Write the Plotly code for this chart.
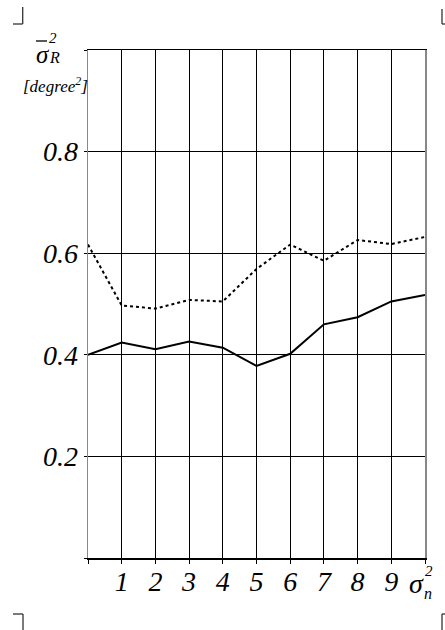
import plotly.graph_objects as go

# ---- data ----
x_vals = [0, 1, 2, 3, 4, 5, 6, 7, 8, 9, 10]
solid_series = [0.400, 0.424, 0.411, 0.426, 0.414, 0.378, 0.402, 0.460, 0.474, 0.505, 0.518]
dotted_series = [0.617, 0.497, 0.491, 0.508, 0.505, 0.569, 0.617, 0.585, 0.626, 0.618, 0.632]
x_tick_vals = [1, 2, 3, 4, 5, 6, 7, 8, 9]
x_tick_text = ["1", "2", "3", "4", "5", "6", "7", "8", "9"]
x_minor_vals = [0, 10]
x_axis_label = "σ"
x_axis_label_sub = "n"
x_axis_label_sup = "2"
y_tick_vals = [0.2, 0.4, 0.6, 0.8]
y_tick_text = ["0.2", "0.4", "0.6", "0.8"]
y_minor_vals = [0, 1.0]
y_axis_label = "σ"
y_axis_label_sub = "R"
y_axis_label_sup = "2"
y_axis_unit = "[degree<sup>2</sup>]"

W, H = 445, 630
L, R, T, B = 88, 20, 50, 72
FONT = "Liberation Serif"

fig = go.Figure()
fig.add_trace(go.Scatter(x=x_vals, y=dotted_series, mode="lines",
                         line=dict(color="black", width=2, dash="dot"), showlegend=False))
fig.add_trace(go.Scatter(x=x_vals, y=solid_series, mode="lines",
                         line=dict(color="black", width=2), showlegend=False))

tickfont = dict(family=FONT, size=28, style="italic", color="black")

fig.update_xaxes(range=[0, 10], tickvals=x_tick_vals, ticktext=x_tick_text,
                 showgrid=True, gridcolor="black", gridwidth=1,
                 showline=True, linecolor="black", linewidth=1.5, mirror=True,
                 ticks="outside", ticklen=4, tickcolor="black", tickwidth=1,
                 ticklabelstandoff=-6,
                 minor=dict(tickvals=x_minor_vals, ticks="outside", ticklen=4,
                            tickcolor="black", showgrid=False),
                 tickfont=tickfont, zeroline=False)
fig.update_yaxes(range=[0, 1], tickvals=y_tick_vals, ticktext=y_tick_text,
                 showgrid=True, gridcolor="black", gridwidth=1,
                 showline=True, linecolor="#888888", linewidth=1.5, mirror=True,
                 ticks="outside", ticklen=3, tickcolor="black", tickwidth=1,
                 minor=dict(tickvals=y_minor_vals, ticks="outside", ticklen=3,
                            tickcolor="black", showgrid=False),
                 tickfont=tickfont, zeroline=False)


def px_x(p):
    return (p - L) / (W - L - R)


def px_y(p):
    return (H - B - p) / (H - T - B)


def ifont(size):
    return dict(family=FONT, size=size, style="italic", color="black")


annotations = [
    # y-axis title
    dict(text=y_axis_label, x=px_x(35), y=px_y(55), xanchor="left", yanchor="middle", font=ifont(25)),
    dict(text=y_axis_label_sup, x=px_x(48), y=px_y(47), xanchor="left", yanchor="bottom", font=ifont(15)),
    dict(text=y_axis_label_sub, x=px_x(48), y=px_y(48), xanchor="left", yanchor="top", font=ifont(16)),
    dict(text=y_axis_unit, x=px_x(55), y=px_y(85), xanchor="center", yanchor="middle", font=ifont(17)),
    # x-axis end label
    dict(text=x_axis_label, x=px_x(408), y=px_y(583), xanchor="left", yanchor="middle", font=ifont(28)),
    dict(text=x_axis_label_sup, x=px_x(424), y=px_y(580), xanchor="left", yanchor="bottom", font=ifont(15)),
    dict(text=x_axis_label_sub, x=px_x(423), y=px_y(584), xanchor="left", yanchor="top", font=ifont(16)),
]
for a in annotations:
    a.update(xref="paper", yref="paper", showarrow=False, borderpad=0)
fig.update_layout(annotations=annotations)

shapes = []
# overline on sigma
shapes.append(dict(type="line", xref="paper", yref="paper", x0=px_x(36), x1=px_x(47),
                   y0=px_y(41), y1=px_y(41), line=dict(color="black", width=1.3)))
# crop marks
mark = dict(color="#333333", width=1.3)
segs = [
    ((22.7, 7), (22.7, 24)), ((13, 24), (22.7, 24)),
    ((442, 9), (442, 24)), ((442, 24), (446, 24)),
    ((13, 614), (23, 614)), ((23, 614), (23, 631)),
    ((442, 614), (442, 631)), ((442, 614), (446, 614)),
]
for (a, b) in segs:
    shapes.append(dict(type="line", xref="paper", yref="paper",
                       x0=px_x(a[0]), y0=px_y(a[1]), x1=px_x(b[0]), y1=px_y(b[1]), line=mark))
fig.update_layout(shapes=shapes)

fig.update_layout(width=W, height=H, margin=dict(l=L, r=R, t=T, b=B),
                  plot_bgcolor="white", paper_bgcolor="white", hovermode=False)

fig.write_html("out.html",
               config={"displayModeBar": False, "staticPlot": True},
               post_script="document.body.style.margin='0';document.body.style.overflow='hidden';")
